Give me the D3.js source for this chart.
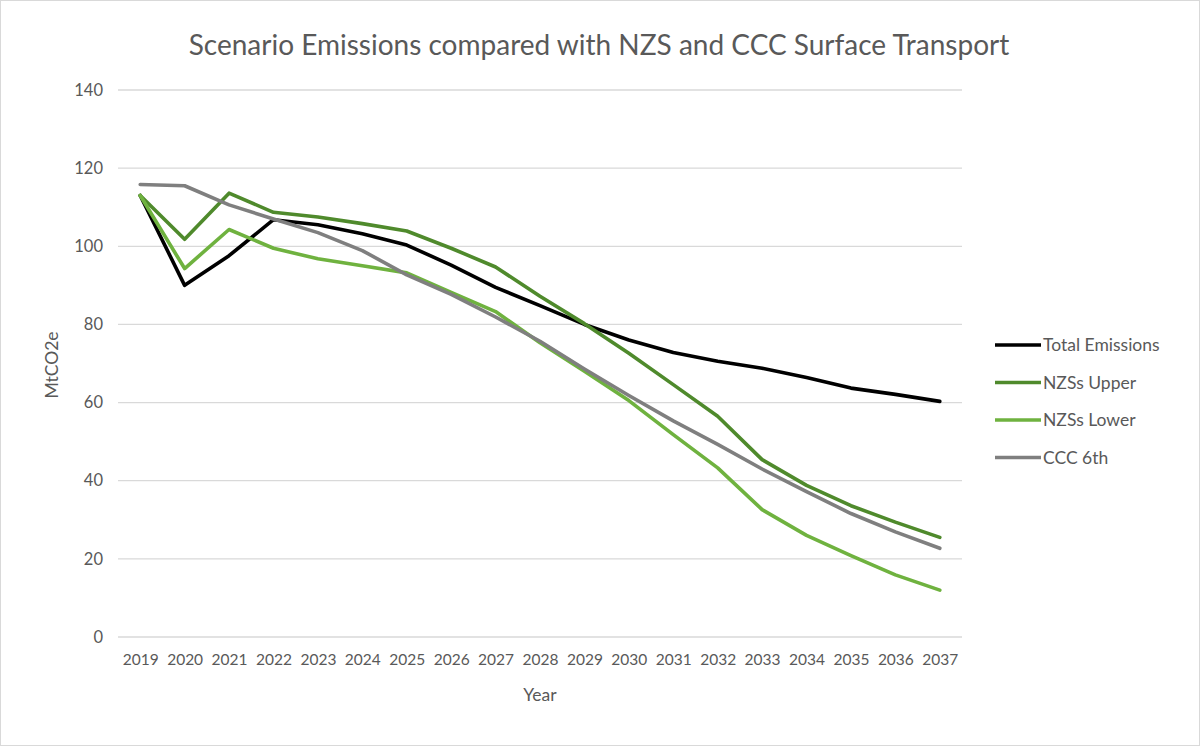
<!DOCTYPE html>
<html><head><meta charset="utf-8">
<script src="https://cdn.jsdelivr.net/npm/d3@7/dist/d3.min.js"></script>
<style>body{margin:0;background:#fff;}svg{display:block;font-family:Lato,"Open Sans",sans-serif;}</style>
</head><body><svg id="c" width="1200" height="746"></svg>
<script>
const years = [2019,2020,2021,2022,2023,2024,2025,2026,2027,2028,2029,2030,2031,2032,2033,2034,2035,2036,2037];
const totalEmissions = [113,90,97.6,106.8,105.5,103.2,100.3,95.2,89.5,84.8,80,76,72.8,70.6,68.8,66.4,63.7,62.1,60.3];
const nzsUpper = [113,101.8,113.6,108.7,107.5,105.8,103.9,99.5,94.7,87.2,80.2,72.6,64.6,56.5,45.4,38.8,33.6,29.4,25.5];
const nzsLower = [113,94.3,104.3,99.5,96.8,95,93.2,88.2,83.3,75.3,68,60.5,51.8,43.3,32.6,26,20.8,15.9,12];
const ccc6th = [115.8,115.5,110.6,107,103.5,98.9,92.7,87.7,81.9,75.7,68.6,61.8,55.3,49.3,43,37.2,31.6,26.9,22.7];
const yTicks = [0,20,40,60,80,100,120,140];
const seriesNames = ["Total Emissions","NZSs Upper","NZSs Lower","CCC 6th"];
const seriesColors = ["#000000","#4f8a2c","#6fb23f","#7f7f7f"];
const seriesData = [totalEmissions,nzsUpper,nzsLower,ccc6th];

(function(){
const svg = d3.select("#c");
svg.append("rect").attr("x",0.5).attr("y",0.5).attr("width",1199).attr("height",745)
  .attr("fill","#fff").attr("stroke","#d9d9d9");

const pL=118,pR=962,pT=90,pB=637;
const x = d3.scalePoint().domain(years).range([pL,pR]).padding(0.5);
const y = d3.scaleLinear().domain([0,140]).range([pB,pT]);

svg.append("g").selectAll("line").data(yTicks).join("line")
  .attr("x1",pL).attr("x2",pR).attr("y1",d=>y(d)).attr("y2",d=>y(d))
  .attr("stroke","#d9d9d9").attr("stroke-width",1.3);

const ya = svg.append("g").attr("transform",`translate(${pL},0)`)
  .call(d3.axisLeft(y).tickValues(yTicks).tickSize(0).tickPadding(15));
ya.select(".domain").remove();
ya.selectAll("text").attr("font-size",16.5).attr("fill","#595959").attr("font-family","Lato,'Open Sans',sans-serif");

const xa = svg.append("g").attr("transform",`translate(0,${pB})`)
  .call(d3.axisBottom(x).tickSize(0).tickPadding(17).tickFormat(d3.format("d")));
xa.select(".domain").remove();
xa.selectAll("text").attr("font-size",15.5).attr("fill","#595959").attr("font-family","Lato,'Open Sans',sans-serif");

const line = d3.line().x((d,i)=>x(years[i])).y(d=>y(d));
seriesData.forEach((s,k)=>{
  svg.append("path").datum(s).attr("d",line).attr("fill","none")
    .attr("stroke",seriesColors[k]).attr("stroke-width",3.6)
    .attr("stroke-linejoin","round").attr("stroke-linecap","round");
});

svg.append("text").attr("x",599).attr("y",55).attr("text-anchor","middle")
  .attr("font-size",28).attr("fill","#595959").text("Scenario Emissions compared with NZS and CCC Surface Transport");

svg.append("text").attr("x",540).attr("y",701).attr("text-anchor","middle")
  .attr("font-size",17.5).attr("fill","#595959").text("Year");
svg.append("text").attr("transform","translate(58,365) rotate(-90)").attr("text-anchor","middle")
  .attr("font-size",17.5).attr("fill","#595959").text("MtCO2e");

const lg = svg.append("g");
seriesNames.forEach((n,k)=>{
  const yy = 345 + k*37.5;
  lg.append("line").attr("x1",995).attr("x2",1041).attr("y1",yy).attr("y2",yy)
    .attr("stroke",seriesColors[k]).attr("stroke-width",3.6);
  lg.append("text").attr("x",1043).attr("y",yy+6).attr("font-size",17.5)
    .attr("fill","#595959").text(n);
});
})();
</script></body></html>
